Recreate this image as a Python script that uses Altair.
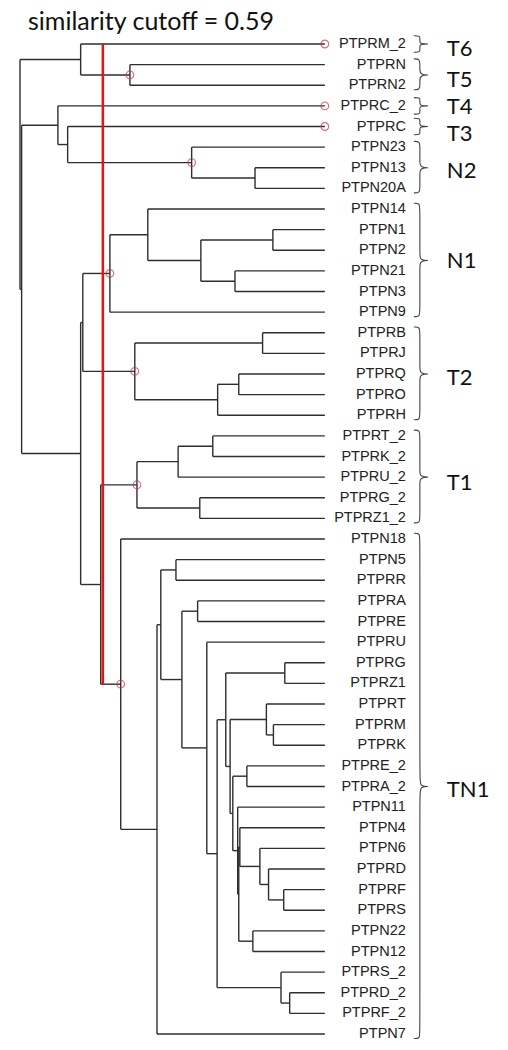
import altair as alt
import pandas as pd

# ---------------- data ----------------
leaves = ["PTPRM_2", "PTPRN", "PTPRN2", "PTPRC_2", "PTPRC", "PTPN23", "PTPN13", "PTPN20A",
          "PTPN14", "PTPN1", "PTPN2", "PTPN21", "PTPN3", "PTPN9", "PTPRB", "PTPRJ", "PTPRQ",
          "PTPRO", "PTPRH", "PTPRT_2", "PTPRK_2", "PTPRU_2", "PTPRG_2", "PTPRZ1_2", "PTPN18",
          "PTPN5", "PTPRR", "PTPRA", "PTPRE", "PTPRU", "PTPRG", "PTPRZ1", "PTPRT", "PTPRM",
          "PTPRK", "PTPRE_2", "PTPRA_2", "PTPN11", "PTPN4", "PTPN6", "PTPRD", "PTPRF", "PTPRS",
          "PTPN22", "PTPN12", "PTPRS_2", "PTPRD_2", "PTPRF_2", "PTPN7"]

# (node, left child, right child, similarity at which they merge)
merges = [
    ("n_T5", "PTPRN", "PTPRN2", 0.640),
    ("n_T65", "PTPRM_2", "n_T5", 0.549),
    ("n_Q", "PTPN13", "PTPN20A", 0.871),
    ("n_N2", "PTPN23", "n_Q", 0.754),
    ("n_B", "PTPRC", "n_N2", 0.525),
    ("n_A", "PTPRC_2", "n_B", 0.507),
    ("n_G", "PTPN1", "PTPN2", 0.904),
    ("n_H", "PTPN21", "PTPN3", 0.834),
    ("n_F", "n_G", "n_H", 0.771),
    ("n_E", "PTPN14", "n_F", 0.673),
    ("n_N1", "n_E", "PTPN9", 0.603),
    ("n_N", "PTPRB", "PTPRJ", 0.885),
    ("n_P", "PTPRQ", "PTPRO", 0.841),
    ("n_O", "n_P", "PTPRH", 0.802),
    ("n_T2", "n_N", "n_O", 0.649),
    ("n_I", "n_N1", "n_T2", 0.553),
    ("n_M", "PTPRT_2", "PTPRK_2", 0.793),
    ("n_K", "n_M", "PTPRU_2", 0.729),
    ("n_L", "PTPRG_2", "PTPRZ1_2", 0.769),
    ("n_T1", "n_K", "n_L", 0.653),
    ("n_T", "PTPN5", "PTPRR", 0.725),
    ("n_V", "PTPRA", "PTPRE", 0.765),
    ("n_AB", "PTPRG", "PTPRZ1", 0.926),
    ("n_MK", "PTPRM", "PTPRK", 0.905),
    ("n_Y", "PTPRT", "n_MK", 0.892),
    ("n_EA", "PTPRE_2", "PTPRA_2", 0.856),
    ("n_FS", "PTPRF", "PTPRS", 0.924),
    ("n_D6", "PTPRD", "n_FS", 0.896),
    ("n_6", "PTPN6", "n_D6", 0.880),
    ("n_E4", "PTPN4", "n_6", 0.843),
    ("n_22", "PTPN22", "PTPN12", 0.867),
    ("n_E3", "n_E4", "n_22", 0.841),
    ("n_E2", "PTPN11", "n_E3", 0.839),
    ("n_E1", "n_EA", "n_E2", 0.830),
    ("n_Dn", "n_Y", "n_E1", 0.825),
    ("n_Cn", "n_AB", "n_Dn", 0.817),
    ("n_AA", "PTPRD_2", "PTPRF_2", 0.935),
    ("n_Z", "PTPRS_2", "n_AA", 0.919),
    ("n_X", "n_Cn", "n_Z", 0.801),
    ("n_W", "PTPRU", "n_X", 0.782),
    ("n_U", "n_V", "n_W", 0.736),
    ("n_S", "n_T", "n_U", 0.697),
    ("n_R", "n_S", "PTPN7", 0.690),
    ("n_TN1", "PTPN18", "n_R", 0.623),
    ("n_J", "n_T1", "n_TN1", 0.586),
    ("n_D", "n_I", "n_J", 0.549),
    ("n_C", "n_A", "n_D", 0.440),
    ("root", "n_T65", "n_C", 0.437),
]

# (cluster label, first leaf, last leaf, node where the cutoff cuts)
clusters = [
    ("T6", "PTPRM_2", "PTPRM_2", "PTPRM_2"),
    ("T5", "PTPRN", "PTPRN2", "n_T5"),
    ("T4", "PTPRC_2", "PTPRC_2", "PTPRC_2"),
    ("T3", "PTPRC", "PTPRC", "PTPRC"),
    ("N2", "PTPN23", "PTPN20A", "n_N2"),
    ("N1", "PTPN14", "PTPN9", "n_N1"),
    ("T2", "PTPRB", "PTPRH", "n_T2"),
    ("T1", "PTPRT_2", "PTPRZ1_2", "n_T1"),
    ("TN1", "PTPN18", "PTPN7", "n_TN1"),
]

cutoff = 0.59
title_text = "similarity cutoff = 0.59"

# ---------------- layout (dendrogram geometry from the tree) ----------------
PX = 541.5  # pixels per unit of similarity
W, H = 492, 1000
root_h = merges[-1][3]
x_lo = root_h - 12 / PX
x_dom = [x_lo, x_lo + W / PX]
ROW = 20.625
y_lo = -8 / ROW
y_dom = [y_lo, y_lo + H / ROW]

# small vertical nudges (px) of the cluster names, as placed in the figure
label_nudge = {"T6": 5, "T5": 5, "T4": 1, "T3": 7, "N2": 3, "N1": 0, "T2": 4, "T1": 6, "TN1": 3}


def xo(px):
    return 1.0 + px / PX


ypos = {n: i for i, n in enumerate(leaves)}
xpos = {n: 1.0 for n in leaves}
segs = []
for node, a, b, h in merges:
    ya, yb = ypos[a], ypos[b]
    ypos[node] = (ya + yb) / 2
    xpos[node] = h
    segs.append(dict(x=h, x2=h, y=ya, y2=yb))
    segs.append(dict(x=h, x2=xpos[a], y=ya, y2=ya))
    segs.append(dict(x=h, x2=xpos[b], y=yb, y2=yb))
seg_df = pd.DataFrame(segs)

lab_df = pd.DataFrame({"name": leaves, "x": [1.0] * len(leaves),
                       "y": list(range(len(leaves)))})

mk_df = pd.DataFrame([dict(x=xpos[m], y=ypos[m]) for _, _, _, m in clusters])

cut_df = pd.DataFrame([dict(x=cutoff, y=0, y2=ypos["n_TN1"])])

E, S, T = xo(89), xo(95), xo(107)
brace_rows = []
grp_rows = []
for lab, f, l, _ in clusters:
    i0, i1 = leaves.index(f), leaves.index(l)
    if i0 == i1:
        top, bot, r = i0 - 0.4, i1 + 0.4, 0.12
    else:
        top, bot, r = i0 - 0.28, i1 + 0.22, 0.3
    mid = (i0 + i1) / 2
    pts = [(E, top), (S, top), (S, top + r), (S, mid - r), (S, mid), (T, mid),
           (S, mid), (S, mid + r), (S, bot - r), (S, bot), (E, bot)]
    for k, (px_, py_) in enumerate(pts):
        brace_rows.append(dict(g=lab, o=k, x=px_, y=py_))
    grp_rows.append(dict(label=lab, x=xo(122), y=mid + label_nudge[lab] / ROW))
brace_df = pd.DataFrame(brace_rows)
grp_df = pd.DataFrame(grp_rows)

title_df = pd.DataFrame([dict(t=title_text, x=root_h, y=-14 / ROW)])

xs = alt.Scale(domain=x_dom, nice=False, zero=False)
ys = alt.Scale(domain=y_dom, nice=False, zero=False, reverse=True)

X = lambda f="x": alt.X(f"{f}:Q", scale=xs, axis=None)
Y = lambda f="y": alt.Y(f"{f}:Q", scale=ys, axis=None)

tree = alt.Chart(seg_df).mark_rule(color="#2e2e2e", strokeWidth=1.4).encode(
    x=X(), x2="x2", y=Y(), y2="y2")

cut = alt.Chart(cut_df).mark_rule(color="#ee1111", strokeWidth=2.5).encode(
    x=X(), y=Y(), y2="y2")

markers = alt.Chart(mk_df).mark_point(shape="circle", size=60, filled=False,
                                      color="#cc3344", strokeWidth=1.1).encode(
    x=X(), y=Y())

labels = alt.Chart(lab_df).mark_text(align="right", baseline="middle", dx=81,
                                     font="Liberation Sans", fontSize=14.5,
                                     color="#222222").encode(
    x=X(), y=Y(), text="name:N")

braces = alt.Chart(brace_df).mark_line(interpolate="basis", color="#444444",
                                       strokeWidth=1.1).encode(
    x=X(), y=Y(), detail="g:N", order="o:Q")

groups = alt.Chart(grp_df).mark_text(align="left", baseline="middle",
                                     font="Lato", fontSize=22,
                                     color="#111111").encode(
    x=X(), y=Y(), text="label:N")

title = alt.Chart(title_df).mark_text(
    align="left", baseline="alphabetic", dx=8, font="Lato", fontSize=25,
    color="#111111").encode(x=X(), y=Y(), text="t:N")

chart = alt.layer(tree, cut, markers, labels, braces, groups, title).properties(
    width=W, height=H,
    autosize=alt.AutoSizeParams(type="none"),
    padding={"top": 28, "left": 0, "right": 0, "bottom": 6},
    background="white",
).configure_view(stroke=None)

chart.save("out.html", embed_options={"renderer": "svg", "actions": False})
